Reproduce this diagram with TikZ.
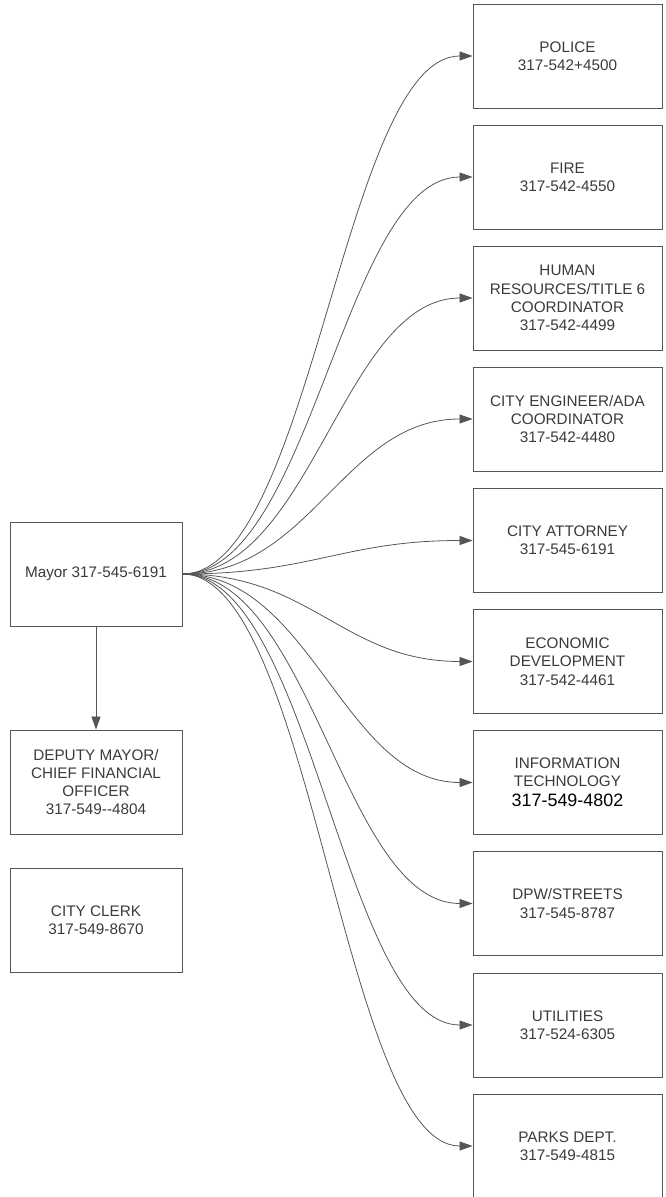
\documentclass[tikz,border=0pt]{standalone}
\usepackage{fontspec}
\setmainfont{Liberation Sans}
\usetikzlibrary{arrows.meta}
\definecolor{linegray}{HTML}{555555}
\definecolor{textgray}{HTML}{3A3A3A}

\begin{document}
\begin{tikzpicture}[
    office/.style = {draw = linegray, line width = 0.5pt, minimum width = 3.78cm,
      minimum height = 2.08cm, inner sep = 0pt, align = center, text = textgray,
      font = \fontsize{8.7}{10.4}\selectfont},
    leftoffice/.style = {office, minimum width = 3.44cm},
    link/.style = {draw = linegray, line width = 0.45pt,
      -{Triangle[length = 0.26cm, width = 0.18cm]}}
  ]
  \useasboundingbox (0cm, 0cm) rectangle (13.32cm, -23.94cm);

  % left column
  \node [leftoffice] (mayor) at (1.92cm, -11.48cm) {Mayor 317-545-6191};
  \node [leftoffice] (deputy) at (1.92cm, -15.64cm)
    {DEPUTY MAYOR/\\CHIEF FINANCIAL\\OFFICER\\317-549-{}-4804};
  \node [leftoffice] (clerk) at (1.92cm, -18.40cm) {CITY CLERK\\317-549-8670};

  % right column
  \node [office] (police) at (11.35cm, -1.12cm) {POLICE\\317-542+4500};
  \node [office] (fire) at (11.35cm, -3.54cm) {FIRE\\317-542-4550};
  \node [office] (hr) at (11.35cm, -5.96cm)
    {HUMAN\\RESOURCES/TITLE 6\\COORDINATOR\\317-542-4499};
  \node [office] (engineer) at (11.35cm, -8.38cm)
    {CITY ENGINEER/ADA\\COORDINATOR\\317-542-4480};
  \node [office] (attorney) at (11.35cm, -10.81cm) {CITY ATTORNEY\\317-545-6191};
  \node [office] (economic) at (11.35cm, -13.23cm)
    {ECONOMIC\\DEVELOPMENT\\317-542-4461};
  \node [office] (tech) at (11.35cm, -15.65cm)
    {INFORMATION\\TECHNOLOGY\\[1pt]{\color{black}\fontsize{10.2}{12}\selectfont 317-549-4802}};
  \node [office] (streets) at (11.35cm, -18.07cm) {DPW/STREETS\\317-545-8787};
  \node [office] (utilities) at (11.35cm, -20.50cm) {UTILITIES\\317-524-6305};
  \node [office] (parks) at (11.35cm, -22.92cm) {PARKS DEPT.\\317-549-4815};

  \draw [link] (mayor.south) -- (deputy.north);

  % curved links, same horizontal pull at both ends
  \draw [link] (mayor.east) .. controls +(2.58cm, 0cm) and +(-2.58cm, 0cm) .. (police.west);
  \draw [link] (mayor.east) .. controls +(2.58cm, 0cm) and +(-2.58cm, 0cm) .. (fire.west);
  \draw [link] (mayor.east) .. controls +(2.58cm, 0cm) and +(-2.58cm, 0cm) .. (hr.west);
  \draw [link] (mayor.east) .. controls +(2.58cm, 0cm) and +(-2.58cm, 0cm) .. (engineer.west);
  \draw [link] (mayor.east) .. controls +(2.58cm, 0cm) and +(-2.58cm, 0cm) .. (attorney.west);
  \draw [link] (mayor.east) .. controls +(2.58cm, 0cm) and +(-2.58cm, 0cm) .. (economic.west);
  \draw [link] (mayor.east) .. controls +(2.58cm, 0cm) and +(-2.58cm, 0cm) .. (tech.west);
  \draw [link] (mayor.east) .. controls +(2.58cm, 0cm) and +(-2.58cm, 0cm) .. (streets.west);
  \draw [link] (mayor.east) .. controls +(2.58cm, 0cm) and +(-2.58cm, 0cm) .. (utilities.west);
  \draw [link] (mayor.east) .. controls +(2.58cm, 0cm) and +(-2.58cm, 0cm) .. (parks.west);
\end{tikzpicture}
\end{document}
